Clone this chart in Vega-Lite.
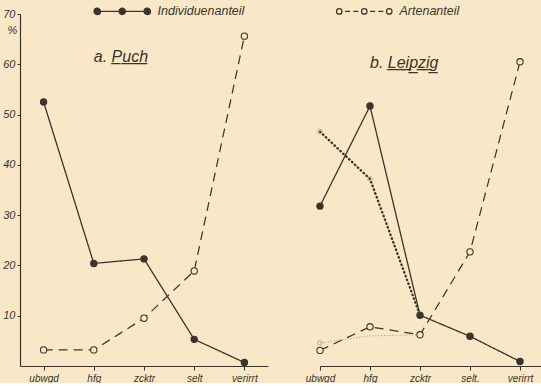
{
  "$schema": "https://vega.github.io/schema/vega-lite/v6.json",
  "background": "#f8e8c7",
  "padding": {"left": 2, "top": 5, "right": 0, "bottom": 0},
  "bounds": "flush",
  "spacing": 52,
  "config": {
    "view": {"stroke": null},
    "font": "Liberation Sans",
    "axis": {
      "grid": false,
      "labelFont": "Liberation Sans",
      "labelFontStyle": "italic",
      "labelColor": "#3b342b",
      "domainColor": "#3b342b",
      "tickColor": "#3b342b",
      "domainWidth": 1.2,
      "tickWidth": 1
    }
  },
  "datasets": {
    "puch": [
      {"kat": "ubwgd", "serie": "Individuenanteil", "wert": 52.5},
      {"kat": "hfg", "serie": "Individuenanteil", "wert": 20.4},
      {"kat": "zcktr", "serie": "Individuenanteil", "wert": 21.3},
      {"kat": "selt", "serie": "Individuenanteil", "wert": 5.3},
      {"kat": "verirrt", "serie": "Individuenanteil", "wert": 0.7},
      {"kat": "ubwgd", "serie": "Artenanteil", "wert": 3.2},
      {"kat": "hfg", "serie": "Artenanteil", "wert": 3.2},
      {"kat": "zcktr", "serie": "Artenanteil", "wert": 9.5},
      {"kat": "selt", "serie": "Artenanteil", "wert": 18.9},
      {"kat": "verirrt", "serie": "Artenanteil", "wert": 65.6}
    ],
    "leipzig": [
      {"kat": "ubwgd", "serie": "Individuenanteil", "wert": 31.8},
      {"kat": "hfg", "serie": "Individuenanteil", "wert": 51.7},
      {"kat": "zcktr", "serie": "Individuenanteil", "wert": 10.1},
      {"kat": "selt.", "serie": "Individuenanteil", "wert": 5.9},
      {"kat": "verirrt", "serie": "Individuenanteil", "wert": 0.9},
      {"kat": "ubwgd", "serie": "Artenanteil", "wert": 3.1},
      {"kat": "hfg", "serie": "Artenanteil", "wert": 7.8},
      {"kat": "zcktr", "serie": "Artenanteil", "wert": 6.2},
      {"kat": "selt.", "serie": "Artenanteil", "wert": 22.7},
      {"kat": "verirrt", "serie": "Artenanteil", "wert": 60.5},
      {"kat": "ubwgd", "serie": "Individuenanteil (Vergleich)", "wert": 46.6},
      {"kat": "hfg", "serie": "Individuenanteil (Vergleich)", "wert": 37.2},
      {"kat": "zcktr", "serie": "Individuenanteil (Vergleich)", "wert": 10.1},
      {"kat": "ubwgd", "serie": "Artenanteil (Vergleich)", "wert": 4.6},
      {"kat": "hfg", "serie": "Artenanteil (Vergleich)", "wert": 6.0},
      {"kat": "zcktr", "serie": "Artenanteil (Vergleich)", "wert": 6.2}
    ]
  },
  "resolve": {
    "scale": {"x": "independent", "fill": "independent", "color": "independent", "strokeDash": "independent", "strokeWidth": "independent"},
    "legend": {"fill": "independent"}
  },
  "hconcat": [
    {
      "width": 248,
      "height": 352,
      "data": {"name": "puch"},
      "layer": [
        {
          "mark": {"type": "line"},
          "encoding": {
            "x": {"field": "kat", "type": "ordinal", "sort": ["ubwgd", "hfg", "zcktr", "selt", "verirrt"], "scale": {"type": "point", "padding": 0.47},
                  "axis": {"title": null, "labelAngle": 0, "labelFontSize": 10, "tickSize": 4, "labelPadding": 3}},
            "y": {"field": "wert", "type": "quantitative", "scale": {"domain": [0, 70], "nice": false},
                  "axis": {"values": [10, 20, 30, 40, 50, 60, 70], "title": "%", "titleAngle": 0, "titleX": -8, "titleY": 16, "titleAlign": "center", "titleBaseline": "middle", "titleFontSize": 11, "titleFontStyle": "italic", "titleFontWeight": "normal", "titleFont": "Liberation Sans", "titleColor": "#3b342b", "labelFontSize": 11, "labelPadding": 2, "tickSize": 3}},
            "detail": {"field": "serie"},
            "strokeDash": {"field": "serie", "type": "nominal", "legend": null, "scale": {"domain": ["Individuenanteil", "Artenanteil", "Individuenanteil (Vergleich)", "Artenanteil (Vergleich)"], "range": [[1, 0], [9, 6], [2, 2], [1, 1.8]]}},
            "strokeWidth": {"field": "serie", "type": "ordinal", "legend": null, "scale": {"domain": ["Individuenanteil", "Artenanteil", "Individuenanteil (Vergleich)", "Artenanteil (Vergleich)"], "range": [1.3, 1.1, 2.8, 0.9]}},
            "color": {"field": "serie", "type": "nominal", "legend": null, "scale": {"domain": ["Individuenanteil", "Artenanteil", "Individuenanteil (Vergleich)", "Artenanteil (Vergleich)"], "range": ["#3b342b", "#3b342b", "#3b342b", "#aca18c"]}}
          }
        },
        {
          "transform": [{"filter": {"field": "serie", "oneOf": ["Individuenanteil", "Artenanteil"]}}],
          "mark": {"type": "point", "filled": true, "stroke": "#3b342b", "strokeWidth": 1.1, "size": 40, "opacity": 1},
          "encoding": {
            "x": {"field": "kat", "type": "ordinal", "sort": ["ubwgd", "hfg", "zcktr", "selt", "verirrt"]},
            "y": {"field": "wert", "type": "quantitative"},
            "fill": {"field": "serie", "type": "nominal",
              "scale": {"domain": ["Individuenanteil", "Artenanteil"], "range": ["#3b342b", "#f8e8c7"]},
              "legend": {
                "orient": "none", "legendX": 96, "legendY": -9, "direction": "horizontal", "title": null,
                "values": ["Individuenanteil", "Artenanteil"],
                "symbolSize": 100,
                "symbolType": {"expr": "datum.value === 'Artenanteil' ? 'M-5.55,0A0.55,0.55 0 1 0 -4.45,0A0.55,0.55 0 1 0 -5.55,0Z M-0.55,0A0.55,0.55 0 1 0 0.55,0A0.55,0.55 0 1 0 -0.55,0Z M4.45,0A0.55,0.55 0 1 0 5.55,0A0.55,0.55 0 1 0 4.45,0Z M-3.82,0L-2.82,0 M-2.18,0L-1.18,0 M1.18,0L2.18,0 M2.82,0L3.82,0' : 'M-5.65,0A0.65,0.65 0 1 0 -4.35,0A0.65,0.65 0 1 0 -5.65,0Z M-0.65,0A0.65,0.65 0 1 0 0.65,0A0.65,0.65 0 1 0 -0.65,0Z M4.35,0A0.65,0.65 0 1 0 5.65,0A0.65,0.65 0 1 0 4.35,0Z M-4.35,0L-0.65,0 M0.65,0L4.35,0'"},
                "symbolStrokeColor": "#3b342b", "symbolStrokeWidth": 1.2,
                "labelOffset": 29, "columnPadding": 89,
                "labelFont": "Liberation Sans", "labelFontStyle": "italic", "labelFontSize": 12.5, "labelColor": "#3b342b", "labelLimit": 300
              }
            }
          }
        },
        {
          "data": {"values": [{"titel": "a. P̲u̲c̲h̲"}]},
          "mark": {"type": "text", "align": "left", "baseline": "middle", "font": "Liberation Sans", "fontStyle": "italic", "fontSize": 16, "color": "#3b342b"},
          "encoding": {
            "x": {"datum": "hfg"},
            "y": {"datum": 61.4},
            "text": {"field": "titel"}
          }
        }
      ]
    },
    {
      "width": 221,
      "height": 352,
      "data": {"name": "leipzig"},
      "layer": [
        {
          "transform": [{"filter": {"field": "serie", "oneOf": ["Individuenanteil", "Artenanteil", "Artenanteil (Vergleich)"]}}],
          "mark": {"type": "line"},
          "encoding": {
            "x": {"field": "kat", "type": "ordinal", "sort": ["ubwgd", "hfg", "zcktr", "selt.", "verirrt"], "scale": {"type": "point", "padding": 0.21, "align": 0},
                  "axis": {"title": null, "labelAngle": 0, "labelFontSize": 10, "tickSize": 4, "labelPadding": 3}},
            "y": {"field": "wert", "type": "quantitative", "scale": {"domain": [0, 70], "nice": false}, "axis": null},
            "detail": {"field": "serie"},
            "strokeDash": {"field": "serie", "type": "nominal", "legend": null, "scale": {"domain": ["Individuenanteil", "Artenanteil", "Individuenanteil (Vergleich)", "Artenanteil (Vergleich)"], "range": [[1, 0], [9, 6], [2, 2], [1, 1.8]]}},
            "strokeWidth": {"field": "serie", "type": "ordinal", "legend": null, "scale": {"domain": ["Individuenanteil", "Artenanteil", "Individuenanteil (Vergleich)", "Artenanteil (Vergleich)"], "range": [1.3, 1.1, 2.8, 0.9]}},
            "color": {"field": "serie", "type": "nominal", "legend": null, "scale": {"domain": ["Individuenanteil", "Artenanteil", "Individuenanteil (Vergleich)", "Artenanteil (Vergleich)"], "range": ["#3b342b", "#3b342b", "#3b342b", "#aca18c"]}}
          }
        },
        {
          "transform": [{"filter": "datum.serie == 'Individuenanteil (Vergleich)'"}],
          "mark": {"type": "line", "color": "#3b342b", "strokeWidth": 2.3, "strokeDash": [0.6, 3.4], "strokeCap": "round"},
          "encoding": {
            "x": {"field": "kat", "type": "ordinal", "sort": ["ubwgd", "hfg", "zcktr", "selt.", "verirrt"]},
            "y": {"field": "wert", "type": "quantitative"}
          }
        },
        {
          "transform": [{"filter": "(datum.serie == 'Individuenanteil (Vergleich)' && datum.kat != 'zcktr') || (datum.serie == 'Artenanteil (Vergleich)' && datum.kat == 'ubwgd')"}],
          "mark": {"type": "point", "filled": false, "stroke": "#a3977f", "strokeWidth": 1, "size": 22},
          "encoding": {
            "x": {"field": "kat", "type": "ordinal", "sort": ["ubwgd", "hfg", "zcktr", "selt.", "verirrt"]},
            "y": {"field": "wert", "type": "quantitative"}
          }
        },
        {
          "transform": [{"filter": {"field": "serie", "oneOf": ["Individuenanteil", "Artenanteil"]}}],
          "mark": {"type": "point", "filled": true, "stroke": "#3b342b", "strokeWidth": 1.1, "size": 40, "opacity": 1},
          "encoding": {
            "x": {"field": "kat", "type": "ordinal", "sort": ["ubwgd", "hfg", "zcktr", "selt.", "verirrt"]},
            "y": {"field": "wert", "type": "quantitative"},
            "fill": {"field": "serie", "type": "nominal", "legend": null,
              "scale": {"domain": ["Individuenanteil", "Artenanteil"], "range": ["#3b342b", "#f8e8c7"]}}
          }
        },
        {
          "data": {"values": [{"titel": "b. L̲e̲i̲p̲z̲i̲g̲"}]},
          "mark": {"type": "text", "align": "left", "baseline": "middle", "font": "Liberation Sans", "fontStyle": "italic", "fontSize": 16, "color": "#3b342b"},
          "encoding": {
            "x": {"datum": "hfg"},
            "y": {"datum": 60.2},
            "text": {"field": "titel"}
          }
        }
      ]
    }
  ]
}
